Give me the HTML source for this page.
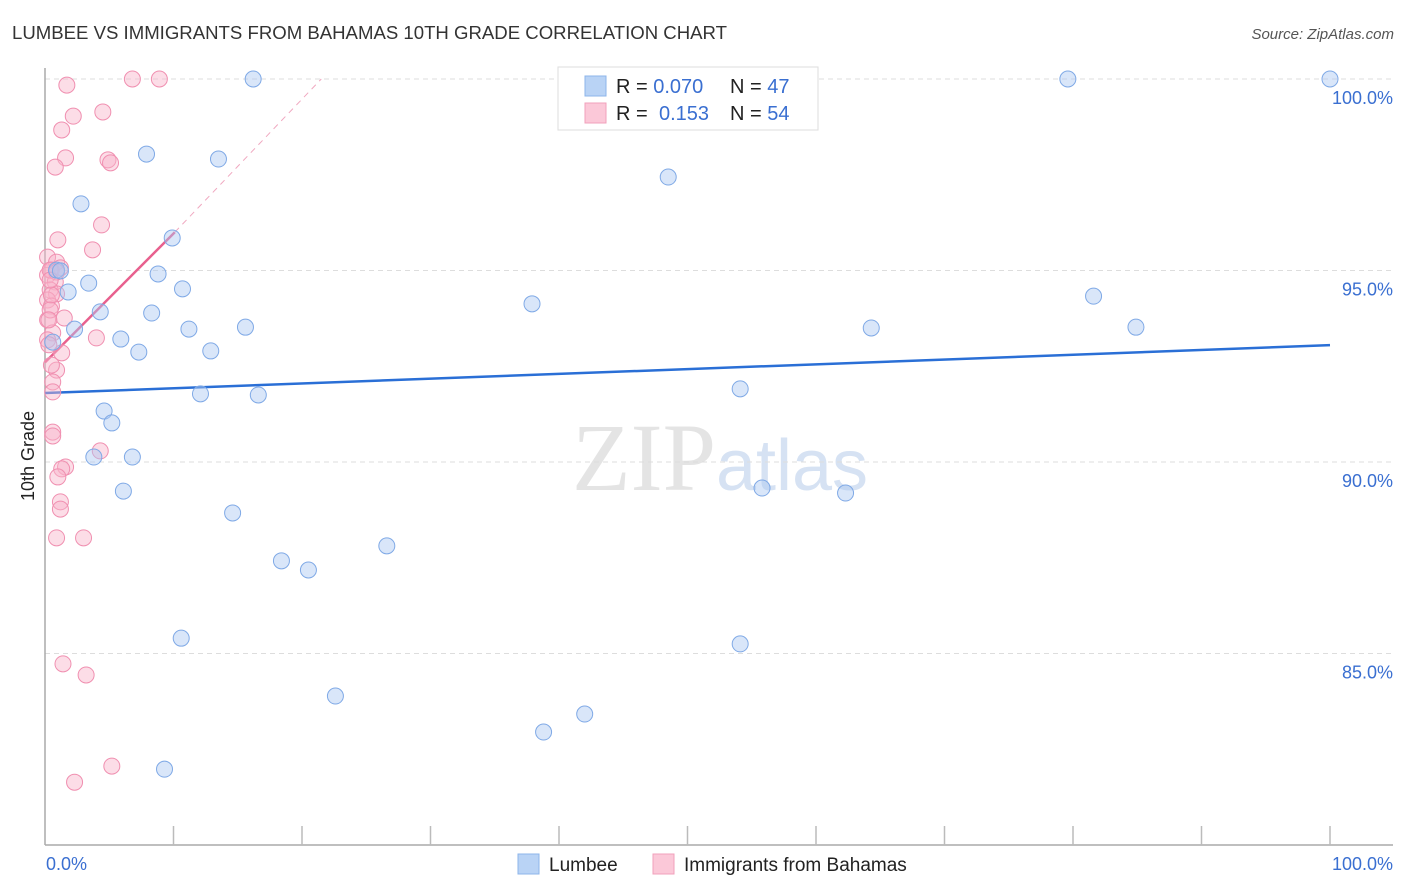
<!DOCTYPE html>
<html><head><meta charset="utf-8">
<style>
body{margin:0;background:#fff;font-family:"Liberation Sans",sans-serif;}
svg{display:block}
</style></head>
<body>
<svg id="chart" width="1406" height="892">
<text x="12" y="39" font-size="18" fill="#333" textLength="715" lengthAdjust="spacingAndGlyphs">LUMBEE VS IMMIGRANTS FROM BAHAMAS 10TH GRADE CORRELATION CHART</text>
<text x="1394" y="39" font-size="15" fill="#555" font-style="italic" text-anchor="end">Source: ZipAtlas.com</text>
<text x="720" y="490" font-size="96" fill="#e4e4e4" text-anchor="middle" font-family="Liberation Serif,serif">ZIP<tspan fill="#d6e2f3" font-family="Liberation Sans,sans-serif" font-size="72">atlas</tspan></text>
<text transform="translate(34,456) rotate(-90)" font-size="18" fill="#222" text-anchor="middle">10th Grade</text>
<g id="grid"></g><g id="axes"></g><g id="lines"></g><g id="pts"></g>
<g>
<rect x="558" y="67" width="260" height="63" fill="#fff" stroke="#ddd"/>
<rect x="585" y="76" width="21" height="20" fill="#b9d3f5" stroke="#8db4ea"/>
<rect x="585" y="103" width="21" height="20" fill="#fbc8d8" stroke="#f2a0bb"/>
<text x="616" y="93" font-size="20" fill="#222">R = <tspan fill="#3a6fd1">0.070</tspan><tspan x="730">N = </tspan><tspan fill="#3a6fd1">47</tspan></text>
<text x="616" y="120" font-size="20" fill="#222">R = <tspan x="659" fill="#3a6fd1">0.153</tspan><tspan x="730">N = </tspan><tspan fill="#3a6fd1">54</tspan></text>
</g>
<g>
<rect x="518" y="854" width="21" height="20" fill="#b9d3f5" stroke="#8db4ea"/>
<text x="549" y="871" font-size="19" fill="#222">Lumbee</text>
<rect x="653" y="854" width="21" height="20" fill="#fbc8d8" stroke="#f2a0bb"/>
<text x="684" y="871" font-size="19" fill="#222">Immigrants from Bahamas</text>
</g>
</svg>
<script>
const blueX=[16.2,79.6,100,7.9,13.5,48.5,2.8,9.9,8.8,3.4,10.7,1.8,37.9,81.6,8.3,4.3,2.3,11.2,15.6,64.3,84.9,5.9,7.3,12.9,0.6,12.1,16.6,54.1,4.6,5.2,3.8,6.8,6.1,55.8,62.3,14.6,26.6,18.4,20.5,10.6,54.1,22.6,42.0,38.8,9.3,0.9,1.2];
const blueY=[100,100,100,98.04,97.91,97.44,96.74,95.85,94.91,94.67,94.52,94.44,94.13,94.33,93.89,93.92,93.47,93.47,93.52,93.50,93.52,93.21,92.87,92.90,93.13,91.78,91.75,91.91,91.33,91.02,90.13,90.13,89.24,89.32,89.19,88.67,87.81,87.42,87.18,85.40,85.25,83.89,83.42,82.95,81.98,95.01,94.99];
const pinkX=[1.7,6.8,8.9,4.5,2.2,1.3,1.6,4.9,5.1,0.8,4.4,3.7,0.2,0.9,0.5,1.2,0.2,0.8,0.4,0.9,0.2,0.5,1.5,0.2,0.6,4.0,0.2,1.3,0.9,0.6,0.6,0.6,0.6,4.3,1.6,1.3,1.0,1.2,1.2,0.9,3.0,1.4,3.2,5.2,2.3,0.4,0.9,0.5,0.4,0.3,0.5,1.0,0.3,0.4];
const pinkY=[99.84,100,100,99.14,99.03,98.67,97.94,97.89,97.81,97.70,96.19,95.54,95.35,95.22,95.01,95.07,94.88,94.70,94.49,94.39,94.23,94.07,93.76,93.71,93.37,93.24,93.19,92.85,92.40,92.09,91.83,90.78,90.68,90.29,89.87,89.82,89.61,88.96,88.77,88.02,88.02,84.73,84.44,82.06,81.64,95.01,94.96,94.36,93.97,93.06,92.53,95.80,93.71,94.75];
const yTicks=[100,95,90,85];
const yTickLabels=["100.0%","95.0%","90.0%","85.0%"];
const xTickLabels=["0.0%","100.0%"];
const blueTrend=[[0,91.8],[100,93.05]];
const pinkTrend=[[0,92.6],[10.1,96.0]];
const pinkDash=[[10.1,96.0],[21.5,100]];
const NS="http://www.w3.org/2000/svg";
const X=v=>45+v*12.85, Y=v=>79+(100-v)*38.3;
function mk(tag,attrs,parent){const e=document.createElementNS(NS,tag);for(const k in attrs)e.setAttribute(k,attrs[k]);document.getElementById(parent).appendChild(e);return e;}
yTicks.forEach((t,i)=>{
 const g=mk('line',{x1:45,x2:1393,y1:Y(t),y2:Y(t),stroke:'#ddd','stroke-dasharray':'5,4'},'grid');
 
 
 const l=mk('text',{x:1393,y:Y(t)+25,'font-size':18,fill:'#3a6fd1','text-anchor':'end'},'grid');
 l.textContent=yTickLabels[i];
 
 
});
const ya=mk('line',{x1:45,x2:45,y1:68,y2:845,stroke:'#aaa','stroke-width':1.5},'axes');


const xa=mk('line',{x1:45,x2:1393,y1:845,y2:845,stroke:'#aaa','stroke-width':1.5},'axes');


for(let i=1;i<=10;i++){
 const t=mk('line',{x1:X(i*10),x2:X(i*10),y1:826,y2:845,stroke:'#bbb','stroke-width':1.5},'axes');
 
 
}
[[0,'start',46],[100,'end',1393]].forEach((d,i)=>{
 const l=mk('text',{x:d[2],y:870,'font-size':18,fill:'#3a6fd1','text-anchor':d[1]},'axes');
 l.textContent=xTickLabels[i];
 
 
});
function pts(xs,ys,fill,stroke,name){xs.forEach((x,i)=>{
 const c=mk('circle',{cx:X(x),cy:Y(ys[i]),r:8,fill:fill,stroke:stroke,'stroke-width':1},'pts');
 
 
});}
pts(pinkX,pinkY,'rgba(248,180,202,0.45)','#f08fb0','bahamas-point');
pts(blueX,blueY,'rgba(170,200,242,0.45)','#7fa9e6','lumbee-point');
const bl=mk('line',{x1:X(blueTrend[0][0]),y1:Y(blueTrend[0][1]),x2:X(blueTrend[1][0]),y2:Y(blueTrend[1][1]),stroke:'#2a6fd6','stroke-width':2.5},'lines');


const pl=mk('line',{x1:X(pinkTrend[0][0]),y1:Y(pinkTrend[0][1]),x2:X(pinkTrend[1][0]),y2:Y(pinkTrend[1][1]),stroke:'#e8608e','stroke-width':2.5},'lines');


const pd=mk('line',{x1:X(pinkDash[0][0]),y1:Y(pinkDash[0][1]),x2:X(pinkDash[1][0]),y2:Y(pinkDash[1][1]),stroke:'#f0a8c0','stroke-width':1,'stroke-dasharray':'6,5'},'lines');


</script>
</body></html>
